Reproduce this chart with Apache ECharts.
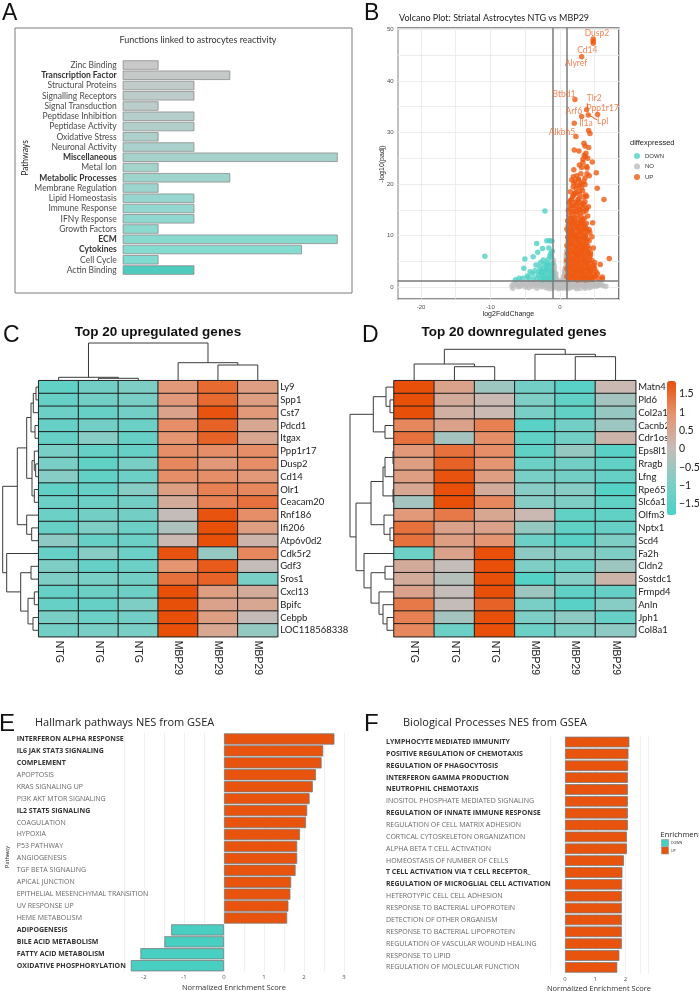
<!DOCTYPE html>
<html>
<head>
<meta charset="utf-8">
<script src="https://cdn.jsdelivr.net/npm/echarts@6/dist/echarts.min.js"></script>
<style>
  html, body { margin: 0; padding: 0; background: #fff; }
  #chart { width: 699px; height: 991px; }
</style>
</head>
<body>
<div id="chart"></div>
<script>
// ---- A: functions linked to astrocyte reactivity ----
const functionNames = ['Zinc Binding', 'Transcription Factor', 'Structural Proteins', 'Signalling Receptors',
  'Signal Transduction', 'Peptidase Inhibition', 'Peptidase Activity', 'Oxidative Stress', 'Neuronal Activity',
  'Miscellaneous', 'Metal Ion', 'Metabolic Processes', 'Membrane Regulation', 'Lipid Homeostasis',
  'Immune Response', 'IFNγ Response', 'Growth Factors', 'ECM', 'Cytokines', 'Cell Cycle', 'Actin Binding']
const functionCounts = [1, 3, 2, 2, 1, 2, 2, 1, 2, 6, 1, 3, 1, 2, 2, 2, 1, 6, 5, 1, 2]
const functionBold = ['Transcription Factor', 'Miscellaneous', 'Metabolic Processes', 'ECM', 'Cytokines']

// ---- B: volcano ----
const fcCut = [-1, 1]
const padjCut = 1.3
const upPoints = [
  [4.79, 48.1], [4.79, 47.7], [4.79, 47.3], [3.12, 44.7],
  [2.16, 36.4], [3.84, 34.4], [5.42, 33.5], [3.12, 33.1], [4.08, 33.4], [2.06, 31.8], [2.30, 29.2],
  [4.13, 30.4], [4.32, 29.8], [3.45, 27.9], [3.60, 27.4], [4.13, 27.1], [2.06, 26.6], [2.73, 26.4],
  [3.74, 26.0], [3.64, 25.3], [4.65, 24.3], [3.31, 24.8], [3.84, 23.4], [3.12, 23.2], [5.23, 22.2],
  [4.22, 21.6], [2.64, 21.0], [2.16, 20.5], [3.45, 20.5], [2.88, 19.8], [5.37, 19.2], [1.90, 19.5],
  [2.30, 18.3], [3.26, 18.7], [3.84, 17.6], [6.33, 17.0], [2.73, 17.1], [1.82, 17.6], [2.40, 16.3],
  [3.45, 16.0], [1.58, 15.8], [1.91, 14.7], [2.88, 15.0], [3.74, 14.9], [4.70, 12.5],
  [3.3, 24.2], [3.9, 23.1], [3.9, 22.0], [1.91, 21.4], [2.7, 20.8], [3.1, 20.1], [2.0, 20.2], [3.6, 19.9],
  [2.3, 19.2], [2.76, 18.6], [2.0, 17.9], [3.7, 17.9], [1.7, 17.0], [2.6, 17.0], [3.3, 16.3], [1.3, 16.4],
  [1.4, 15.2], [2.0, 15.5], [2.6, 15.1], [1.7, 14.5], [2.3, 14.7], [2.9, 14.4], [3.3, 15.3], [4.1, 15.6],
  [1.5, 16.8], [2.2, 16.5], [2.9, 16.4], [3.6, 16.6], [1.8, 15.9], [2.4, 15.7], [3.0, 15.8], [3.8, 15.2],
  [1.2, 14.9], [3.4, 14.6], [2.1, 18.2], [2.8, 18.0], [3.4, 17.5], [1.5, 18.5], [2.5, 19.7], [3.1, 19.3],
  [1.7, 20.8], [2.4, 21.6], [3.0, 22.0], [3.6, 21.2], [2.8, 23.7], [2.0, 22.8], [3.5, 25.6], [4.0, 25.0],
  [1.3, 13.9], [1.8, 13.6], [2.4, 14.1], [3.0, 13.7], [3.5, 13.4], [4.0, 13.8],
  [1.5, 13.3], [2.1, 13.5], [2.7, 13.3], [3.3, 13.1],
  [1.1, 12.9], [1.6, 12.7], [2.1, 13.0], [2.7, 12.6], [3.2, 12.9], [3.8, 12.4],
  [1.4, 12.4], [2.0, 12.6], [2.5, 12.3], [3.1, 12.4], [3.5, 12.2],
  [1.2, 12.0], [1.9, 12.2], [2.5, 11.8], [3.0, 12.1], [3.6, 11.7], [4.2, 11.2],
  [1.5, 11.6], [2.0, 11.8], [2.6, 11.5], [3.2, 11.6], [3.8, 11.4],
  [1.0, 11.3], [1.5, 11.1], [2.2, 11.4], [2.8, 11.0], [3.4, 11.2],
  [1.2, 10.8], [1.7, 10.9], [2.3, 10.7], [2.9, 10.8], [3.5, 10.6], [4.0, 10.9],
  [1.3, 10.4], [1.8, 10.6], [2.4, 10.2], [3.0, 10.5], [3.7, 10.1],
  [1.4, 10.0], [1.9, 10.1], [2.5, 9.9], [3.1, 10.0], [3.6, 9.8],
  [1.1, 9.7], [1.6, 9.5], [2.1, 9.8], [2.7, 9.4], [3.3, 9.7], [3.9, 9.3],
  [1.3, 9.2], [1.9, 9.3], [2.4, 9.4], [3.0, 9.2], [3.6, 9.4], [4.2, 9.0],
  [1.2, 8.9], [1.8, 8.7], [2.4, 9.0], [3.0, 8.6], [3.5, 8.9],
  [1.4, 8.5], [2.0, 8.4], [2.6, 8.6], [3.2, 8.4], [3.8, 8.5],
  [1.0, 8.1], [1.5, 8.3], [2.1, 7.9], [2.7, 8.2], [3.3, 7.8], [4.0, 8.0],
  [1.2, 7.7], [1.8, 7.8], [2.4, 7.7], [3.0, 7.6], [3.6, 7.9], [4.2, 7.5],
  [1.3, 7.4], [1.9, 7.2], [2.5, 7.5], [3.1, 7.1], [3.7, 7.4], [4.4, 6.7],
  [1.5, 7.0], [2.1, 6.9], [2.7, 7.0], [3.3, 7.2], [3.9, 7.0],
  [1.1, 6.6], [1.6, 6.8], [2.2, 6.5], [2.8, 6.7], [3.4, 6.4], [4.0, 6.6],
  [1.3, 6.2], [1.9, 6.3], [2.5, 6.2], [3.1, 6.3], [3.7, 6.1], [4.4, 6.3],
  [1.3, 5.9], [1.9, 5.7], [2.5, 6.0], [3.1, 5.8], [3.7, 5.6], [4.3, 5.9],
  [1.2, 5.5], [1.8, 5.4], [2.4, 5.6], [3.0, 5.5], [3.6, 5.3], [4.2, 5.4],
  [1.0, 5.2], [1.6, 5.0], [2.2, 5.3], [2.8, 4.9], [3.4, 5.1], [4.0, 4.8], [4.6, 5.2],
  [1.4, 4.7], [2.0, 4.7], [2.6, 4.8], [3.2, 4.6], [3.8, 4.7], [4.4, 4.6], [5.0, 4.8],
  [1.2, 4.4], [1.8, 4.2], [2.4, 4.5], [3.0, 4.1], [3.6, 4.4], [4.2, 4.1],
  [1.2, 4.0], [1.8, 3.9], [2.4, 4.0], [3.0, 3.8], [3.6, 3.9], [4.2, 3.7], [4.8, 3.9],
  [1.0, 3.6], [1.5, 3.8], [2.1, 3.5], [2.7, 3.7], [3.3, 3.4], [3.9, 3.6], [4.5, 3.3], [5.0, 3.6],
  [1.4, 3.3], [2.0, 3.2], [2.6, 3.3], [3.2, 3.1], [3.8, 3.2], [4.4, 3.0], [5.2, 3.0],
  [1.2, 2.9], [1.8, 2.7], [2.4, 3.0], [3.0, 2.8], [3.6, 2.6], [4.2, 2.9], [4.8, 2.5],
  [1.3, 2.5], [1.9, 2.4], [2.5, 2.6], [3.1, 2.4], [3.7, 2.3], [4.3, 2.4], [4.9, 2.0],
  [1.0, 2.1], [1.5, 2.3], [2.1, 2.0], [2.7, 2.2], [3.3, 1.9], [3.9, 2.1], [4.5, 1.8], [5.1, 2.2],
  [1.2, 1.8], [1.7, 1.9], [2.3, 1.7], [2.9, 1.9], [3.5, 1.7], [4.1, 1.8], [4.7, 1.5], [5.5, 1.7],
  [1.3, 1.5], [1.9, 1.6], [2.5, 1.4], [3.1, 1.5], [3.7, 1.4], [4.3, 1.5], [6.1, 1.6], [6.1, 2.0],
  [4.8, 7.6], [7.1, 5.6], [5.8, 4.4], [4.9, 4.2], [5.4, 2.6], [4.6, 9.8], [4.3, 10.6]
]
const downPoints = [
  [-10.8, 6.0], [-2.16, 14.8], [-1.9, 9.0], [-1.5, 9.0], [-1.15, 8.95], [-3.35, 8.5], [-2.5, 7.5],
  [-3.2, 6.8], [-1.44, 6.1], [-3.85, 5.9], [-5.05, 5.5], [-2.4, 5.3], [-1.85, 4.65], [-3.45, 4.3],
  [-1.45, 4.3], [-5.2, 3.7], [-3.9, 2.6], [-5.85, 1.75], [-5.3, 1.75], [-6.4, 1.45], [-3.85, 1.6],
  [-4.5, 1.9], [-2.9, 3.9], [-2.4, 3.6], [-1.9, 3.8], [-1.3, 3.5], [-2.7, 3.1], [-2.1, 2.9],
  [-1.6, 3.1], [-1.1, 2.8], [-3.1, 2.4], [-2.5, 2.3], [-1.9, 2.2], [-1.4, 2.4], [-3.3, 1.8],
  [-2.8, 1.7], [-2.2, 1.6], [-1.7, 1.7], [-1.2, 1.9], [-2.5, 1.4], [-1.5, 1.4], [-3.6, 3.2],
  [-2.2, 4.4], [-1.7, 5.4], [-1.2, 5.8], [-2.8, 4.8], [-1.1, 7.0], [-1.3, 6.6], [-1.6, 7.6],
  [-4.3, 3.0], [-4.7, 2.2], [-1.05, 4.6], [-1.05, 2.1], [-2.0, 3.3], [-1.5, 2.0], [-2.6, 2.7],
  [-1.2, 3.2], [-1.8, 4.3], [-2.3, 2.0], [-3.0, 3.0], [-1.1, 1.6]
]
const nsPoints = [
  [-6.9, 0.3], [-6.3, 0.5], [-5.7, 0.2], [-5.2, 0.8], [-4.8, 0.4], [-4.3, 0.9], [-3.9, 0.2], [-3.5, 0.6],
  [-3.1, 1.0], [-2.8, 0.3], [-2.5, 0.7], [-2.2, 1.1], [-1.9, 0.4], [-1.6, 0.8], [-1.3, 0.2], [-1.1, 1.0],
  [-0.8, 0.5], [-0.6, 1.1], [-0.4, 0.2], [-0.2, 0.7], [0.0, 0.3], [0.2, 0.9], [0.4, 0.4], [0.6, 1.0],
  [0.8, 0.2], [1.0, 0.7], [1.3, 0.3], [1.6, 0.9], [1.9, 0.5], [2.2, 0.1], [2.5, 0.8], [2.8, 0.4],
  [3.1, 1.0], [3.4, 0.2], [3.7, 0.6], [4.0, 0.9], [4.4, 0.3], [4.8, 0.7], [5.2, 0.2], [5.7, 0.5],
  [6.2, 0.3], [6.6, 0.2], [-5.9, 0.9], [-4.5, -0.1], [-3.3, -0.2], [-2.0, -0.1], [-1.0, -0.2],
  [0.5, -0.2], [1.5, -0.1], [2.9, -0.2], [4.2, -0.1], [5.5, 0.9], [-0.5, 0.0], [0.1, -0.1],
  [-6.6, 0.8], [-6.0, 0.1], [-5.5, 0.6], [-5.0, 0.1], [-4.6, 1.1], [-4.1, 0.5], [-3.7, 1.0], [-3.3, 0.4],
  [-2.9, 0.7], [-2.6, 0.1], [-2.3, 0.5], [-2.0, 0.9], [-1.7, 0.2], [-1.4, 0.6], [-1.2, 1.2], [-0.9, 0.1],
  [-0.7, 0.8], [-0.3, 1.0], [-0.1, 0.4], [0.1, 1.1], [0.3, 0.1], [0.5, 0.7], [0.7, 0.5], [0.9, 1.1],
  [1.2, 0.9], [1.4, 0.5], [1.8, 0.1], [2.0, 1.0], [2.4, 0.4], [2.7, 1.1], [3.0, 0.6], [3.3, 0.9],
  [3.6, 0.2], [3.9, 0.5], [4.2, 1.0], [4.6, 0.1], [5.0, 0.5], [5.4, 0.3], [5.9, 0.7], [-6.8, -0.2],
  [-1.5, -0.3], [-0.2, -0.3], [1.1, -0.3], [2.4, -0.3], [3.6, -0.2],
  [-0.95, 5.2], [-0.9, 4.4], [-0.85, 3.6], [-0.8, 2.9], [-0.7, 2.3], [-0.55, 1.8], [-0.4, 1.4],
  [0.4, 1.5], [0.55, 2.0], [0.7, 2.6], [0.8, 3.3], [0.85, 4.0], [0.9, 4.8], [0.93, 5.6], [0.95, 6.4],
  [0.97, 7.1], [-0.95, 3.0], [0.9, 2.4], [-0.98, 1.8], [0.95, 1.7], [-0.6, 2.6], [0.65, 3.0],
  [-0.85, 4.0], [-0.75, 2.6], [-0.65, 2.0], [0.6, 2.3], [0.75, 3.6], [0.88, 5.2], [0.92, 6.0],
  [-0.9, 3.3], [0.85, 2.8]
]
const geneLabels = ['Dusp2', 'Cd14', 'Alyref', 'Btbd1', 'Tlr2', 'Ppp1r17', 'Arf6', 'Lpl', 'Il1a', 'Alkbh5']
const geneLabelXY = [[5.32, 49.2], [3.93, 46.0], [2.30, 43.4], [0.58, 37.4], [4.94, 36.7],
  [6.14, 34.7], [2.01, 34.2], [6.14, 32.1], [3.74, 31.8], [0.29, 30.1]]
const labelLinks = [[[3.93, 35.66], [3.98, 34.36]], [[4.07, 33.5], [5.37, 32.4]]]

// ---- C / D: heatmaps ----
const sampleIds = ['NTG1', 'NTG2', 'NTG3', 'MBP29_1', 'MBP29_2', 'MBP29_3']
const sampleLabels = ['NTG', 'NTG', 'NTG', 'MBP29', 'MBP29', 'MBP29']
const genesUp = ['Ly9', 'Spp1', 'Cst7', 'Pdcd1', 'Itgax', 'Ppp1r17', 'Dusp2', 'Cd14', 'Olr1', 'Ceacam20',
  'Rnf186', 'Ifi206', 'Atp6v0d2', 'Cdk5r2', 'Gdf3', 'Sros1', 'Cxcl13', 'Bpifc', 'Cebpb', 'LOC118568338']
const zUp = [
  [-1.4, -1.1, -0.9, 0.8, 1.5, 0.7], [-1.3, -1.1, -1.0, 0.8, 1.5, 0.7], [-1.2, -1.3, -1.1, 0.6, 1.8, 0.8],
  [-1.3, -1.1, -1.2, 1.0, 1.6, 0.5], [-1.3, -0.8, -1.3, 0.9, 1.6, 0.5], [-1.0, -1.3, -1.3, 1.0, 1.0, 1.0],
  [-1.0, -1.4, -1.0, 1.1, 0.8, 1.0], [-0.8, -1.4, -1.2, 1.0, 1.0, 0.8], [-1.4, -1.3, -0.8, 0.7, 1.2, 1.1],
  [-1.2, -1.2, -1.1, 0.4, 1.2, 1.4], [-1.2, -1.1, -1.1, 0.0, 1.8, 1.0], [-1.3, -0.9, -1.2, -0.3, 1.9, 0.7],
  [-0.7, -1.3, -1.2, 0.1, 1.9, 0.2], [-1.3, -0.8, -1.2, 1.8, -0.6, 1.1], [-0.9, -1.3, -1.2, 0.9, 1.7, 0.0],
  [-0.9, -1.0, -1.1, 1.4, 1.6, -1.0], [-1.3, -1.2, -1.2, 1.9, 0.7, 0.4], [-1.3, -1.3, -0.9, 1.9, 0.6, 0.5],
  [-1.0, -1.2, -1.1, 1.9, 0.7, 0.0], [-1.1, -1.0, -1.0, 1.9, 0.5, -0.6]
]
const genesDown = ['Matn4', 'Pld6', 'Col2a1', 'Cacnb2', 'Cdr1os', 'Eps8l1', 'Rragb', 'Lfng', 'Rpe65', 'Slc6a11',
  'Olfm3', 'Nptx1', 'Scd4', 'Fa2h', 'Cldn2', 'Sostdc1', 'Frmpd4', 'Anln', 'Jph1', 'Col8a1']
const zDown = [
  [1.9, 0.6, -0.5, -1.1, -1.5, 0.1], [1.9, 0.4, 0.1, -0.9, -1.4, -0.4], [1.9, 0.3, 0.1, -1.0, -1.4, -0.6],
  [1.1, 0.6, 1.2, -1.5, -1.1, -0.5], [1.4, -0.4, 1.0, -1.4, -1.1, 0.2], [0.8, 1.4, 1.0, -1.4, -0.6, -1.5],
  [0.7, 1.6, 0.9, -1.2, -1.1, -1.4], [0.7, 1.8, 0.7, -1.0, -1.1, -1.3], [0.5, 1.9, 0.4, -0.8, -0.8, -1.6],
  [-0.4, 1.9, 1.1, -0.8, -0.9, -1.4], [0.8, 1.3, 0.5, 0.1, -1.4, -1.4], [1.4, 0.6, 0.6, -0.6, -1.4, -1.3],
  [1.4, 0.7, 0.9, -1.2, -1.5, -0.9], [-1.2, 0.6, 1.9, -0.7, -0.8, -0.9], [0.4, 0.0, 1.9, -0.9, -1.2, -0.5],
  [0.4, -0.2, 1.9, -1.6, -0.8, 0.2], [0.6, 0.0, 1.9, -0.5, -1.4, -1.3], [1.3, 0.0, 1.6, -1.0, -1.5, -0.8],
  [1.2, -0.4, 1.9, -0.9, -0.7, -1.3], [1.1, -1.2, 1.9, -1.2, -0.9, -0.7]
]
const zRange = [-1.8, 1.85]
// dendrograms: [childA, childB, height], leaves 0..n-1, merge k becomes node n+k
const upColTree = [[1, 2, 2.4], [0, 6, 3.4], [4, 5, 15.7], [3, 8, 18], [7, 9, 37.7]]
const downColTree = [[1, 2, 14], [0, 6, 16.7], [4, 5, 24], [3, 8, 26.4], [7, 9, 31.4]]
const upRowTree = [[0, 1, 2.7], [2, 20, 5.4], [3, 4, 3.7], [21, 22, 7.7], [6, 7, 3], [5, 24, 4.4],
  [8, 9, 4.4], [25, 26, 6.7], [23, 27, 12], [11, 12, 7], [10, 29, 12], [28, 30, 21.4], [14, 15, 7.7],
  [16, 17, 4.4], [18, 19, 5.7], [33, 34, 10.7], [32, 35, 18], [13, 36, 32], [31, 37, 36]]
const downRowTree = [[1, 2, 4], [0, 20, 8], [3, 4, 9], [21, 22, 20.7], [5, 6, 1], [7, 24, 9], [8, 9, 1],
  [25, 26, 11], [11, 12, 4], [10, 28, 10], [27, 29, 23], [14, 15, 9], [18, 19, 7], [17, 32, 11],
  [16, 33, 15], [31, 34, 23], [13, 35, 30], [30, 36, 38], [23, 37, 44]]

// ---- E: hallmark NES ----
const hallmarkNames = ['INTERFERON ALPHA RESPONSE', 'IL6 JAK STAT3 SIGNALING', 'COMPLEMENT', 'APOPTOSIS',
  'KRAS SIGNALING UP', 'PI3K AKT MTOR SIGNALING', 'IL2 STAT5 SIGNALING', 'COAGULATION', 'HYPOXIA',
  'P53 PATHWAY', 'ANGIOGENESIS', 'TGF BETA SIGNALING', 'APICAL JUNCTION', 'EPITHELIAL MESENCHYMAL TRANSITION',
  'UV RESPONSE UP', 'HEME METABOLISM', 'ADIPOGENESIS', 'BILE ACID METABOLISM', 'FATTY ACID METABOLISM',
  'OXIDATIVE PHOSPHORYLATION']
const hallmarkNES = [2.76, 2.48, 2.44, 2.30, 2.22, 2.14, 2.08, 2.05, 1.90, 1.83, 1.83, 1.79, 1.68, 1.66,
  1.61, 1.58, -1.32, -1.49, -2.09, -2.33]
const hallmarkBold = ['INTERFERON ALPHA RESPONSE', 'IL6 JAK STAT3 SIGNALING', 'COMPLEMENT', 'IL2 STAT5 SIGNALING',
  'ADIPOGENESIS', 'BILE ACID METABOLISM', 'FATTY ACID METABOLISM', 'OXIDATIVE PHOSPHORYLATION']

// ---- F: biological processes NES ----
const bpNames = ['LYMPHOCYTE MEDIATED IMMUNITY', 'POSITIVE REGULATION OF CHEMOTAXIS', 'REGULATION OF PHAGOCYTOSIS',
  'INTERFERON GAMMA PRODUCTION', 'NEUTROPHIL CHEMOTAXIS', 'INOSITOL PHOSPHATE MEDIATED SIGNALING',
  'REGULATION OF INNATE IMMUNE RESPONSE', 'REGULATION OF CELL MATRIX ADHESION', 'CORTICAL CYTOSKELETON ORGANIZATION',
  'ALPHA BETA T CELL ACTIVATION', 'HOMEOSTASIS OF NUMBER OF CELLS', 'T CELL ACTIVATION VIA T CELL RECEPTOR_',
  'REGULATION OF MICROGLIAL CELL ACTIVATION', 'HETEROTYPIC CELL CELL ADHESION', 'RESPONSE TO BACTERIAL LIPOPROTEIN',
  'DETECTION OF OTHER ORGANISM', 'RESPONSE TO BACTERIAL LIPOPROTEIN', 'REGULATION OF VASCULAR WOUND HEALING',
  'RESPONSE TO LIPID', 'REGULATION OF MOLECULAR FUNCTION']
const bpNES = [2.13, 2.10, 2.09, 2.08, 2.08, 2.08, 2.08, 2.08, 2.05, 2.05, 1.95, 1.90, 1.89, 1.88, 1.88,
  1.88, 1.88, 1.88, 1.80, 1.73]
const bpBold = ['LYMPHOCYTE MEDIATED IMMUNITY', 'POSITIVE REGULATION OF CHEMOTAXIS', 'REGULATION OF PHAGOCYTOSIS',
  'INTERFERON GAMMA PRODUCTION', 'NEUTROPHIL CHEMOTAXIS', 'REGULATION OF INNATE IMMUNE RESPONSE',
  'T CELL ACTIVATION VIA T CELL RECEPTOR_', 'REGULATION OF MICROGLIAL CELL ACTIVATION']

// ---- styling ----
const ORANGE = '#e8540e'
const TEAL = '#48cfc1'
const heatColors = ['#48d3c6', '#80cec6', '#c6bcb8', '#e6936f', '#e8500a']

const hexRgb = (h) => [1, 3, 5].map((i) => parseInt(h.slice(i, i + 2), 16))
const mix = (c1, c2, t) => {
  const a = hexRgb(c1), b = hexRgb(c2)
  return 'rgb(' + a.map((v, i) => Math.round(v + (b[i] - v) * t)).join(',') + ')'
}
const colorA = (i) => i === functionNames.length - 1
  ? '#4dcbbc'
  : mix('#c9c9c9', '#80dcd0', i / (functionNames.length - 2))

const heatData = (z) => {
  const out = []
  z.forEach((row, r) => row.forEach((v, c) => out.push([c, r, v])))
  return out
}

const treeSeries = (tree, n, orient, axis) => {
  const pos = [], hgt = []
  for (let i = 0; i < n; i++) { pos.push(i + 0.5); hgt.push(0) }
  tree.forEach((m) => { pos.push((pos[m[0]] + pos[m[1]]) / 2); hgt.push(m[2]) })
  const pt = (p, h) => (orient === 'col' ? [p, h] : [h, p])
  return {
    type: 'custom', xAxisIndex: axis, yAxisIndex: axis, silent: true, clip: false,
    data: tree.map((m, k) => pt(pos[n + k], m[2])),
    renderItem: (params, api) => {
      const m = tree[params.dataIndex]
      const pts = [pt(pos[m[0]], hgt[m[0]]), pt(pos[m[0]], m[2]), pt(pos[m[1]], m[2]), pt(pos[m[1]], hgt[m[1]])]
      return { type: 'polyline', shape: { points: pts.map((p) => api.coord(p)) },
        style: { stroke: '#3a3a3a', lineWidth: 1, fill: null } }
    },
  }
}
const rootH = (tree) => tree[tree.length - 1][2]

const grid = (left, top, width, height, extra) =>
  Object.assign({ left, top, width, height, containLabel: false, outerBoundsMode: 'none' }, extra || {})
const hidden = (gridIndex, min, max, extra) =>
  Object.assign({ gridIndex, type: 'value', min, max, show: false }, extra || {})
const everyTen = (v) => (Math.abs(v % 10) < 1e-6 ? String(v) : '')
const integer = (v) => (Math.abs(v - Math.round(v)) < 1e-6 ? String(Math.round(v)) : '')
const richLabels = (boldList, size, color) => ({
  formatter: (v) => (boldList.includes(v) ? '{b|' + v + '}' : '{n|' + v + '}'),
  rich: {
    b: { fontWeight: 'bold', color: '#333', fontSize: size, fontFamily: 'Open Sans' },
    n: { color, fontSize: size, fontFamily: 'Open Sans' },
  },
})
const txt = (x, y, text, font, fill) => ({
  type: 'text', x, y, silent: true,
  style: { text, font, fill: fill || '#222', align: 'left', verticalAlign: 'middle',
    textAlign: 'left', textVerticalAlign: 'middle' },
})
const centered = (x, y, text, font, fill) => ({
  type: 'text', x, y, silent: true,
  style: { text, font, fill: fill || '#222', align: 'center', verticalAlign: 'middle',
    textAlign: 'center', textVerticalAlign: 'middle' },
})
const vertical = (x, y, text, font) => Object.assign(centered(x, y, text, font), { rotation: Math.PI / 2 })
const LETTER = '23px "Liberation Sans"'

const chart = echarts.init(document.getElementById('chart'), null, { renderer: 'canvas' })

const option = {
  animation: false,
  backgroundColor: '#fff',
  grid: [
    grid(122.7, 59.9, 215, 215.25),                                  // 0 A
    grid(397.7, 28, 221.3, 271, { show: true, borderColor: '#222', borderWidth: 1.2, backgroundColor: '#fff' }), // 1 B
    grid(38.7, 380.7, 239, 256),                                     // 2 C heat
    grid(394, 380.7, 241.7, 256),                                    // 3 D heat
    grid(38.7, 343, 239, 37.7),                                      // 4 C col tree
    grid(2.7, 380.7, 36, 256),                                       // 5 C row tree
    grid(394, 349.3, 241.7, 31.4),                                   // 6 D col tree
    grid(350, 380.7, 44, 256),                                       // 7 D row tree
    grid(667, 381, 9, 134),                                          // 8 colour bar axis
    grid(124, 733, 220, 238.7),                                      // 9 E
    grid(549.9, 736.1, 98.2, 237.2),                                 // 10 F
  ],
  xAxis: [
    hidden(0, 0, 6),
    {
      gridIndex: 1, type: 'value', min: -23.35, max: 8.5, splitNumber: 6,
      axisLine: { show: false }, axisTick: { show: false },
      axisLabel: { fontSize: 6, color: '#4d4d4d', margin: 5, formatter: everyTen, fontFamily: 'Liberation Sans' },
      splitLine: { show: true, lineStyle: { color: '#e9e9e9', width: 0.8 } },
      name: 'log2FoldChange', nameLocation: 'middle', nameGap: 12,
      nameTextStyle: { fontSize: 7, color: '#222', fontFamily: 'Liberation Sans' },
    },
    {
      gridIndex: 2, type: 'category', data: sampleIds,
      axisLine: { show: false }, axisTick: { show: false },
      axisLabel: { interval: 0, rotate: -90, margin: 4, fontSize: 10.5, color: '#222', fontFamily: 'Liberation Sans',
        formatter: (v, i) => sampleLabels[i] },
    },
    {
      gridIndex: 3, type: 'category', data: sampleIds,
      axisLine: { show: false }, axisTick: { show: false },
      axisLabel: { interval: 0, rotate: -90, margin: 4, fontSize: 10.5, color: '#222', fontFamily: 'Liberation Sans',
        formatter: (v, i) => sampleLabels[i] },
    },
    hidden(4, 0, sampleIds.length),
    hidden(5, 0, rootH(upRowTree), { inverse: true }),
    hidden(6, 0, sampleIds.length),
    hidden(7, 0, rootH(downRowTree), { inverse: true }),
    hidden(8, 0, 1),
    {
      gridIndex: 9, type: 'value', min: -2.5, max: 3, splitNumber: 11,
      axisLine: { show: false }, axisTick: { show: false },
      axisLabel: { fontSize: 6, color: '#555', margin: 3, formatter: integer, fontFamily: 'Open Sans' },
      splitLine: { show: true, lineStyle: { color: '#ececec', width: 0.8 } },
      name: 'Normalized Enrichment Score', nameLocation: 'middle', nameGap: 12,
      nameTextStyle: { fontSize: 7.5, color: '#333', fontFamily: 'Open Sans' },
    },
    {
      gridIndex: 10, type: 'value', min: -0.5, max: 2.75, splitNumber: 6,
      axisLine: { show: false }, axisTick: { show: false },
      axisLabel: { fontSize: 6, color: '#555', margin: 3, formatter: integer, fontFamily: 'Open Sans' },
      splitLine: { show: true, lineStyle: { color: '#ececec', width: 0.8 } },
      name: 'Normalized Enrichment Score', nameLocation: 'middle', nameGap: 12,
      nameTextStyle: { fontSize: 7.5, color: '#333', fontFamily: 'Open Sans' },
    },
  ],
  yAxis: [
    {
      gridIndex: 0, type: 'category', inverse: true, data: functionNames,
      axisLine: { show: false }, axisTick: { show: false },
      axisLabel: {
        interval: 0, margin: 6, fontFamily: 'Lato', fontSize: 8.5, color: '#4a4a4a',
        formatter: (v) => (functionBold.includes(v) ? '{b|' + v + '}' : v),
        rich: { b: { fontWeight: 'bold', color: '#333', fontFamily: 'Lato', fontSize: 8.5 } },
      },
    },
    {
      gridIndex: 1, type: 'value', min: -2.27, max: 50.25, splitNumber: 10,
      axisLine: { show: false }, axisTick: { show: false },
      axisLabel: { fontSize: 6, color: '#4d4d4d', margin: 4, formatter: everyTen, fontFamily: 'Liberation Sans' },
      splitLine: { show: true, lineStyle: { color: '#e9e9e9', width: 0.8 } },
    },
    {
      gridIndex: 2, type: 'category', inverse: true, position: 'right', data: genesUp,
      axisLine: { show: false }, axisTick: { show: false },
      axisLabel: { interval: 0, margin: 2.5, fontSize: 9.5, color: '#222', fontFamily: 'Lato' },
    },
    {
      gridIndex: 3, type: 'category', inverse: true, position: 'right', data: genesDown,
      axisLine: { show: false }, axisTick: { show: false },
      axisLabel: { interval: 0, margin: 2.5, fontSize: 9.5, color: '#222', fontFamily: 'Lato' },
    },
    hidden(4, 0, rootH(upColTree)),
    hidden(5, 0, genesUp.length, { inverse: true }),
    hidden(6, 0, rootH(downColTree)),
    hidden(7, 0, genesDown.length, { inverse: true }),
    {
      gridIndex: 8, type: 'value', min: zRange[0], max: zRange[1], splitNumber: 7, position: 'right',
      axisLine: { show: false }, axisTick: { show: false }, splitLine: { show: false },
      axisLabel: {
        margin: 3, fontSize: 10.5, color: '#222', fontFamily: 'Lato',
        formatter: (v) => {
          if (Math.abs(v * 2 - Math.round(v * 2)) > 1e-6) return ''
          return v < 0 ? '\u2212' + Math.abs(v) : String(v)
        },
      },
    },
    {
      gridIndex: 9, type: 'category', inverse: true, data: hallmarkNames,
      axisLine: { show: false }, axisTick: { show: false },
      axisLabel: Object.assign({ interval: 0, align: 'left', margin: 107.3 }, richLabels(hallmarkBold, 7, '#666')),
    },
    {
      gridIndex: 10, type: 'category', inverse: true, data: bpNames.map((n, i) => String(i)),
      axisLine: { show: false }, axisTick: { show: false },
      axisLabel: Object.assign({ interval: 0, align: 'left', margin: 163.9 }, (() => {
        const r = richLabels(bpBold, 7, '#666')
        const f = r.formatter
        r.formatter = (v) => f(bpNames[+v])
        return r
      })()),
    },
  ],
  visualMap: [{
    type: 'continuous', seriesIndex: [6, 7], min: zRange[0], max: zRange[1],
    inRange: { color: heatColors }, left: 667, top: 381, itemWidth: 9, itemHeight: 134,
    calculable: false, text: null, padding: 0, hoverLink: false, showLabel: false,
  }],
  legend: [{
    data: ['DOWN', 'NO', 'UP'], orient: 'vertical', left: 634, top: 153, padding: 0,
    itemWidth: 6, itemHeight: 6, itemGap: 4.5, icon: 'circle', selectedMode: false,
    textStyle: { fontSize: 6, color: '#333', fontFamily: 'Liberation Sans' },
  }],
  graphic: [
    { type: 'rect', shape: { x: 15, y: 28, width: 337, height: 265 }, silent: true,
      style: { fill: 'none', stroke: '#7d7d7d', lineWidth: 1 } },
    txt(2, 14, 'A', LETTER, '#111'),
    txt(364, 14, 'B', LETTER, '#111'),
    txt(3, 336, 'C', LETTER, '#111'),
    txt(362, 336, 'D', LETTER, '#111'),
    txt(-1, 724, 'E', '24px "Liberation Sans"', '#111'),
    txt(364, 724, 'F', '24px "Liberation Sans"', '#111'),
    centered(198, 40, 'Functions linked to astrocytes reactivity', '9px Lato', '#333'),
    txt(399, 18, 'Volcano Plot: Striatal Astrocytes NTG vs MBP29', '9px Lato'),
    centered(158, 332, 'Top 20 upregulated genes', 'bold 13.5px "Liberation Sans"', '#111'),
    centered(514, 332, 'Top 20 downregulated genes', 'bold 13.5px "Liberation Sans"', '#111'),
    txt(35, 722.5, 'Hallmark pathways NES from GSEA', '11px "Open Sans"'),
    txt(403, 722.5, 'Biological Processes NES from GSEA', '11px "Open Sans"'),
    vertical(25, 158, 'Pathways', '8.5px Lato'),
    vertical(382, 164, '-log10(padj)', '7px "Liberation Sans"'),
    vertical(7, 857, 'Pathway', '5.5px "Open Sans"'),
    txt(630, 143, 'diffexpressed', '7.5px "Liberation Sans"'),
    txt(660.5, 835, 'Enrichment', '7.5px "Open Sans"'),
    { type: 'rect', shape: { x: 661.5, y: 839.5, width: 7, height: 7 }, silent: true,
      style: { fill: TEAL, stroke: '#8a8a8a', lineWidth: 0.5 } },
    { type: 'rect', shape: { x: 661.5, y: 847, width: 7, height: 7 }, silent: true,
      style: { fill: ORANGE, stroke: '#8a8a8a', lineWidth: 0.5 } },
    txt(671, 843, 'DOWN', '3.5px "Open Sans"'),
    txt(671, 850.5, 'UP', '3.5px "Open Sans"'),
  ],
  series: [
    // 0 A
    {
      type: 'bar', xAxisIndex: 0, yAxisIndex: 0, data: functionCounts, barCategoryGap: '8%', silent: true,
      itemStyle: { color: (p) => colorA(p.dataIndex), borderColor: '#8c8c8c', borderWidth: 0.8 },
    },
    // 1-3 volcano points
    { name: 'NO', type: 'scatter', xAxisIndex: 1, yAxisIndex: 1, data: nsPoints, symbolSize: 5.5, silent: true,
      itemStyle: { color: '#bdbdbd' }, z: 2 },
    { name: 'DOWN', type: 'scatter', xAxisIndex: 1, yAxisIndex: 1, data: downPoints, symbolSize: 5.5, silent: true,
      itemStyle: { color: '#4fd1c5' }, z: 3 },
    {
      name: 'UP', type: 'scatter', xAxisIndex: 1, yAxisIndex: 1, data: upPoints, symbolSize: 5.5, silent: true,
      itemStyle: { color: '#ef5a12' }, z: 4,
      markLine: {
        silent: true, symbol: 'none', label: { show: false }, animation: false,
        lineStyle: { color: '#7a7a7a', width: 1.5, type: 'solid' },
        data: fcCut.map((v) => ({ xAxis: v })).concat([{ yAxis: padjCut }]),
      },
    },
    // 4 gene labels
    {
      type: 'scatter', xAxisIndex: 1, yAxisIndex: 1, silent: true, z: 5, symbolSize: 0.1,
      itemStyle: { color: 'transparent' },
      data: geneLabels.map((name, i) => ({ name, value: geneLabelXY[i] })),
      label: { show: true, formatter: '{b}', position: 'inside', color: '#f0652a', fontSize: 8.5, fontFamily: 'Lato' },
    },
    // 5 label connectors
    {
      type: 'lines', coordinateSystem: 'cartesian2d', xAxisIndex: 1, yAxisIndex: 1, silent: true, z: 5,
      data: labelLinks.map((c) => ({ coords: c })), symbol: 'none',
      lineStyle: { color: '#ef5a12', width: 1, opacity: 1 },
    },
    // 6-7 heatmaps
    { type: 'heatmap', xAxisIndex: 2, yAxisIndex: 2, data: heatData(zUp), silent: true,
      itemStyle: { borderColor: '#1e1e1e', borderWidth: 1 } },
    { type: 'heatmap', xAxisIndex: 3, yAxisIndex: 3, data: heatData(zDown), silent: true,
      itemStyle: { borderColor: '#1e1e1e', borderWidth: 1 } },
    // 8-11 dendrograms
    treeSeries(upColTree, sampleIds.length, 'col', 4),
    treeSeries(upRowTree, genesUp.length, 'row', 5),
    treeSeries(downColTree, sampleIds.length, 'col', 6),
    treeSeries(downRowTree, genesDown.length, 'row', 7),
    // 12 E
    {
      type: 'bar', xAxisIndex: 9, yAxisIndex: 9, data: hallmarkNES, barCategoryGap: '6%', silent: true,
      itemStyle: { color: (p) => (p.value >= 0 ? ORANGE : TEAL), borderColor: '#7a7a7a', borderWidth: 0.8 },
    },
    // 13 F
    {
      type: 'bar', xAxisIndex: 10, yAxisIndex: 10, data: bpNES, barCategoryGap: '10%', silent: true,
      itemStyle: { color: ORANGE, borderColor: '#7a7a7a', borderWidth: 0.8 },
    },
  ],
}

chart.setOption(option)
</script>
</body>
</html>
